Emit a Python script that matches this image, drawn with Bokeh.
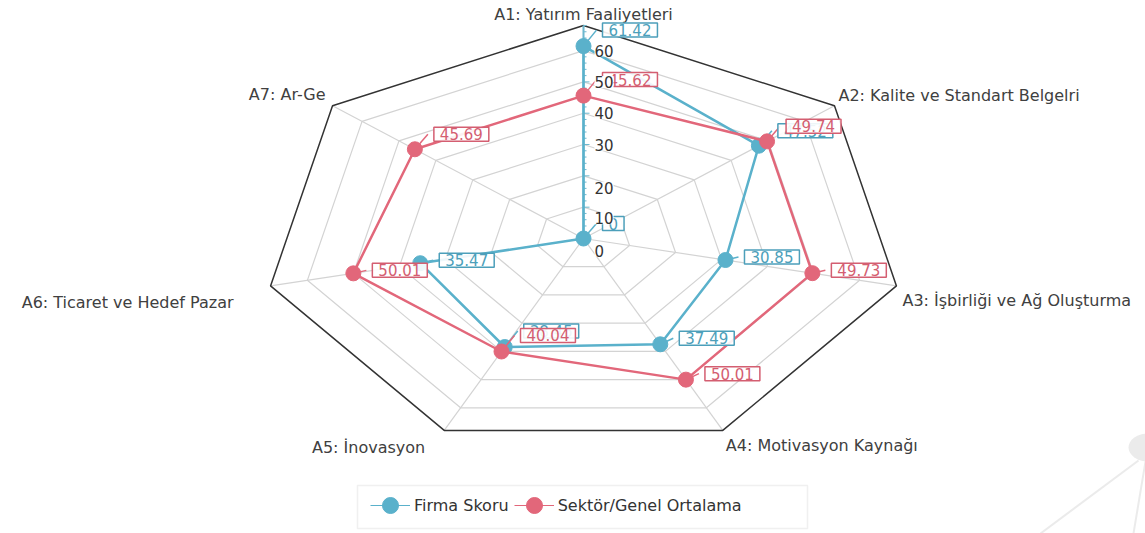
import math
from bokeh.plotting import figure
from bokeh.models import Label, Legend, LegendItem, BoxAnnotation, Range1d
from bokeh.core.properties import value
from bokeh.embed import file_html
from bokeh.resources import INLINE

# ---------------- data ----------------
categories = [
    "A1: Yatırım Faaliyetleri",
    "A2: Kalite ve Standart Belgelri",
    "A3: İşbirliği ve Ağ Oluşturma",
    "A4: Motivasyon Kaynağı",
    "A5: İnovasyon",
    "A6: Ticaret ve Hedef Pazar",
    "A7: Ar-Ge",
]
firma_skoru = [61.42, 47.52, 30.85, 37.49, 38.45, 35.47, 0]
sektor_ortalama = [45.62, 49.74, 49.73, 50.01, 40.04, 50.01, 45.69]
series_names = ["Firma Skoru", "Sektör/Genel Ortalama"]
ring_values = [10, 20, 30, 40, 50, 60]
tick_values = [0, 10, 20, 30, 40, 50, 60]
r_max = 68.0

# ---------------- layout / style ----------------
W, H = 1145, 533
CX, CY = 583, 238              # centre in frame pixels
RX, RY = 321, 213              # pixel radius of the outer ring (x, y)
BLUE = "#5AB1CB"
RED = "#E2677A"
BLUE_TXT = "#4C9FBA"
RED_TXT = "#D45E71"
GRID = "#D3D3D3"
FONT = "DejaVu Sans"

# per-axis label placement (pixels: dx right, dy up) and alignment
lab_dx = [0, 4, 6, 3, -19, -37, -7]
lab_dy = [11, 10, -15, -15, -17, -17, 11]
lab_align = ["center", "left", "left", "left", "right", "right", "right"]
# data-label box centre offset above the point (pixels)
dl_dy = [16, 15, 3, 6, 16, 3, 15]
tick_dy = [12, 11, 12, 0, 0, 0, 0]

n = len(categories)
ang = [2 * math.pi * k / n for k in range(n)]
S = [math.sin(a) for a in ang]
C = [math.cos(a) for a in ang]


def pt(v, k):
    f = v / r_max
    return f * S[k], f * C[k]


def px(X, Y):
    """page pixel -> data coordinate (for decorations / frames only)"""
    return (X - CX) / RX, (CY - Y) / RY


p = figure(width=W, height=H,
           x_range=Range1d(-CX / RX, (W - CX) / RX),
           y_range=Range1d(-(H - CY) / RY, CY / RY),
           output_backend="svg", toolbar_location=None,
           x_axis_location=None, y_axis_location=None, min_border=0)
p.xgrid.visible = False
p.ygrid.visible = False
p.outline_line_color = None
p.background_fill_color = "white"

# decoration at bottom-right (background graphic)
ex, ey = px(1148, 447)
p.ellipse(x=[ex], y=[ey], width=40 / RX, height=28 / RY, fill_color="#EBEBEB", line_color=None)
a0, b0 = px(1138, 460); a1, b1 = px(1040, 533)
c0, d0 = px(1146, 455); c1, d1 = px(1133, 533)
p.segment(x0=[a0, c0], y0=[b0, d0], x1=[a1, c1], y1=[b1, d1], line_color="#EBEBEB", line_width=2)

# grid rings
rxs, rys = [], []
for v in ring_values:
    xs, ys = zip(*[pt(v, k) for k in list(range(n)) + [0]])
    rxs.append(list(xs)); rys.append(list(ys))
p.multi_line(rxs, rys, line_color=GRID, line_width=1.2)
# spokes
p.segment(x0=[0] * n, y0=[0] * n, x1=S, y1=C, line_color=GRID, line_width=1.2)
# outer ring
oxs, oys = zip(*[pt(r_max, k) for k in list(range(n)) + [0]])
p.line(list(oxs), list(oys), line_color="#333333", line_width=1.5)

# radial axis (vertical) with ticks
AX = "#6DB8CF"
p.line([0, 0], [0, 1], line_color=AX, line_width=2)
tv = list(range(0, int(r_max) + 1, 2))
tl = [6 if v % 10 == 0 else 3 for v in tv]
p.segment(x0=[0] * len(tv), y0=[v / r_max for v in tv], x1=[l / RX for l in tl],
          y1=[v / r_max for v in tv], line_color=AX, line_width=1)

legend_renderers = []
for vals, col in ((firma_skoru, BLUE), (sektor_ortalama, RED)):
    xs, ys = zip(*[pt(v, k) for k, v in enumerate(vals)])
    lx = list(xs) + [xs[0]]
    ly = list(ys) + [ys[0]]
    p.line(lx, ly, line_color=col, line_width=2.5)
    # leader lines
    p.segment(x0=list(xs), y0=list(ys), x1=[x + 13 / RX for x in xs],
              y1=[y + d / RY for y, d in zip(ys, dl_dy)], line_color=col, line_width=1.5)
    # thin one-point line used only for the legend glyph
    lg_line = p.line([xs[0]], [ys[0]], line_color=col, line_width=1.2)
    sc = p.scatter(list(xs), list(ys), size=15, fill_color=col, line_color=col)
    legend_renderers.append((lg_line, sc))

# category labels
for k, cat in enumerate(categories):
    x, y = pt(r_max, k)
    p.text(x=[x], y=[y], text=[cat], x_offset=lab_dx[k], y_offset=-lab_dy[k],
           text_align=lab_align[k], text_baseline="middle",
           text_font=value(FONT), text_font_size="16px", text_color="#404040")

# data labels
for vals, col in ((firma_skoru, BLUE_TXT), (sektor_ortalama, RED_TXT)):
    for k, v in enumerate(vals):
        x, y = pt(v, k)
        p.add_layout(Label(x=x, y=y, text=f"{v:g}", x_offset=13 + 6, y_offset=dl_dy[k],
                           text_align="left", text_baseline="middle",
                           text_font=FONT, text_font_size="15px", text_color=col,
                           background_fill_color="white", background_fill_alpha=0.9,
                           border_line_color=col, border_line_width=1.5,
                           padding=dict(left=6, right=6, top=1, bottom=1)))

# radial tick labels
for v, d in zip(tick_values, tick_dy):
    p.add_layout(Label(x=0, y=v / r_max, text=str(v), x_offset=11, y_offset=-d,
                       text_align="left", text_baseline="middle",
                       text_font=FONT, text_font_size="15px", text_color="#333333",
                       background_fill_color="white", background_fill_alpha=1.0))

# legend
bl, bt = px(357, 485)
br, bb = px(807, 528)
p.add_layout(BoxAnnotation(left=bl, right=br, top=bt, bottom=bb,
                           fill_alpha=0, line_color="#CCCCCC", line_width=1.5))
legend = Legend(items=[LegendItem(label=series_names[i], renderers=list(legend_renderers[i])) for i in range(2)],
                orientation="horizontal", location=(370, 8),
                border_line_alpha=0, background_fill_alpha=0, padding=0, margin=0,
                spacing=5, label_standoff=4, glyph_width=40, glyph_height=40,
                label_text_font=FONT, label_text_font_size="16px", label_text_color="#333333")
p.add_layout(legend)

open("out.html", "w").write(file_html(p, INLINE))
